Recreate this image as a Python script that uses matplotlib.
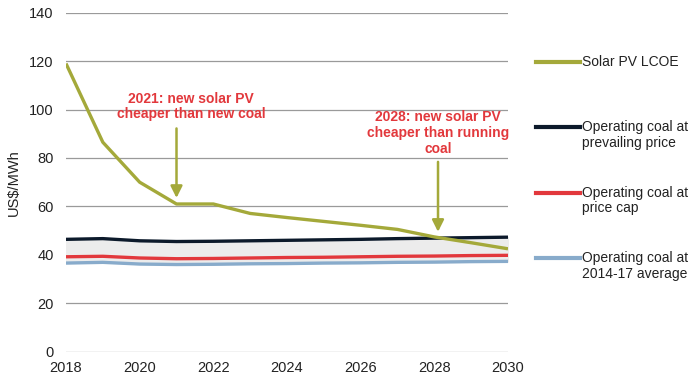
import matplotlib
matplotlib.use("Agg")
import matplotlib.pyplot as plt
from matplotlib.lines import Line2D

plt.rcParams['font.family'] = ['Liberation Sans', 'DejaVu Sans']

years = list(range(2018, 2031))
solar = [119, 86.5, 70, 61, 61, 57.1, 55.4, 53.8, 52.2, 50.5, 47.4, 45.0, 42.5]
coal_prevailing = [46.4, 46.7, 45.8, 45.5, 45.6, 45.8, 46.0, 46.2, 46.4, 46.7, 46.9, 47.1, 47.3]
coal_cap = [39.2, 39.4, 38.7, 38.4, 38.5, 38.7, 38.9, 39.0, 39.2, 39.4, 39.5, 39.7, 39.8]
coal_avg = [36.6, 36.9, 36.2, 36.0, 36.1, 36.3, 36.4, 36.6, 36.7, 36.9, 37.0, 37.2, 37.3]

labels = ["Solar PV LCOE", "Operating coal at\nprevailing price",
          "Operating coal at\nprice cap", "Operating coal at\n2014-17 average"]
colors = ["#a4a93a", "#0c1a2b", "#e2383c", "#88abcb"]
xticks = [2018, 2020, 2022, 2024, 2026, 2028, 2030]
yticks = [0, 20, 40, 60, 80, 100, 120, 140]

W, H = 699, 386
fig = plt.figure(figsize=(W / 100, H / 100), dpi=100)
ax = fig.add_axes([66 / W, 1 - 351.7 / H, (508 - 66) / W, (351.7 - 12.7) / H])

ax.fill_between(years, coal_avg, coal_prevailing, color="#ececec", zorder=1)
for ys, c in zip([coal_avg, coal_cap, coal_prevailing, solar], [colors[3], colors[2], colors[1], colors[0]]):
    ax.plot(years, ys, color=c, lw=2.4, zorder=3, solid_capstyle='butt')

ax.set_xlim(2018, 2030)
ax.set_ylim(0, 140)
ax.set_xticks(xticks)
ax.set_yticks(yticks)
ax.tick_params(length=0, labelsize=10.5, colors="#222222")
ax.tick_params(axis='x', pad=7)
ax.tick_params(axis='y', pad=9)
for s in ax.spines.values():
    s.set_visible(False)
ax.grid(axis='y', color="#9a9a9a", lw=0.9, zorder=0)
ax.set_axisbelow(True)
ax.set_ylabel("US$/MWh", fontsize=10.5, color="#222222", labelpad=6)

red = "#e2383c"
arrow = dict(arrowstyle="-|>,head_length=0.7,head_width=0.35", color=colors[0], lw=1.8, shrinkA=0, shrinkB=0)
ax.annotate("", xy=(2021, 63.5), xytext=(2021, 92.2), arrowprops=arrow, zorder=4)
ax.annotate("", xy=(2028.1, 49.5), xytext=(2028.1, 78.4), arrowprops=arrow, zorder=4)
ax.text(2021.4, 101.2, "2021: new solar PV\ncheaper than new coal", color=red, fontsize=10,
        fontweight='bold', ha='center', va='center', linespacing=1.15)
ax.text(2028.1, 90.3, "2028: new solar PV\ncheaper than running\ncoal", color=red, fontsize=10,
        fontweight='bold', ha='center', va='center', linespacing=1.15)

# legend drawn at right
leg_y = [61.7, 127.3, 192.7, 258]
for y, lab, c in zip(leg_y, labels, colors):
    fy = 1 - y / H
    fig.add_artist(Line2D([536 / W, 580 / W], [fy, fy], color=c, lw=3, transform=fig.transFigure))
    fig.text(582 / W, fy + 7 / H, lab, fontsize=10, color="#222222", ha='left', va='top', linespacing=1.15)

fig.savefig("out.png", dpi=100)
